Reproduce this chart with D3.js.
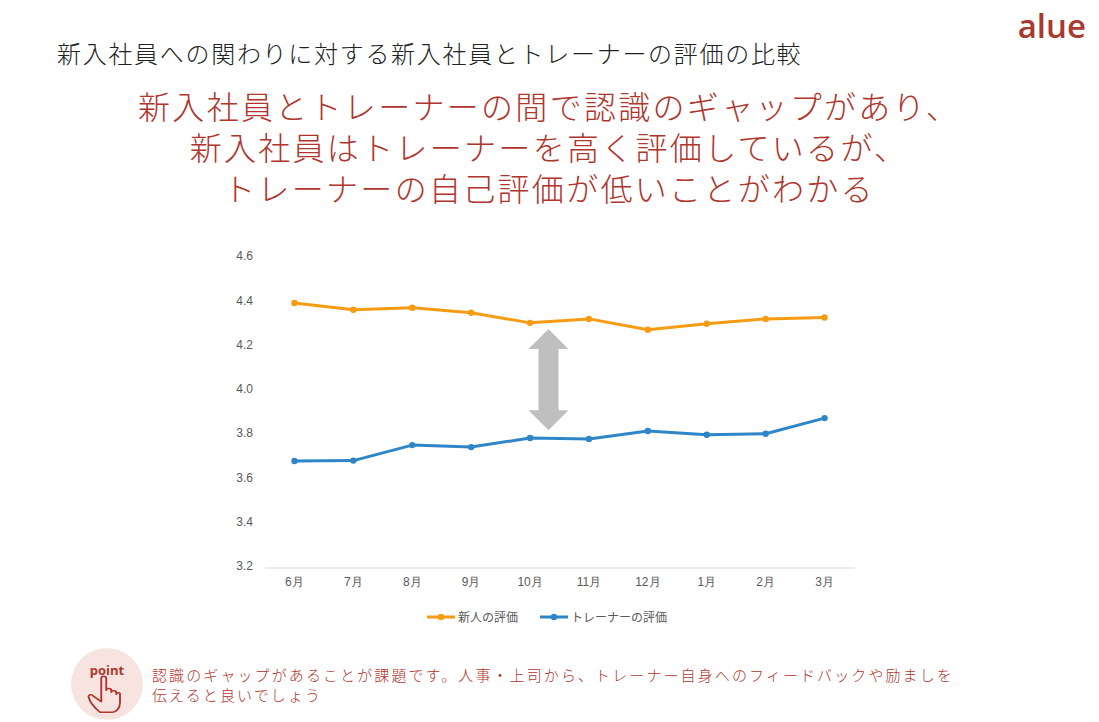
<!DOCTYPE html>
<html>
<head>
<meta charset="utf-8">
<script src="https://cdn.jsdelivr.net/npm/d3@7"></script>
<style>
  html, body { margin: 0; padding: 0; background: #fff; }
  svg { display: block; }
</style>
</head>
<body>
<svg id="chart"></svg>
<script>
// data
const months = ["6月", "7月", "8月", "9月", "10月", "11月", "12月", "1月", "2月", "3月"];
const newcomerScores = [4.388, 4.357, 4.366, 4.344, 4.298, 4.316, 4.267, 4.294, 4.316, 4.322];
const trainerScores = [3.674, 3.676, 3.746, 3.737, 3.778, 3.774, 3.810, 3.793, 3.797, 3.868];
const seriesNames = ["新人の評価", "トレーナーの評価"];
const yTicks = [3.2, 3.4, 3.6, 3.8, 4.0, 4.2, 4.4, 4.6];

const title = "新入社員への関わりに対する新入社員とトレーナーの評価の比較";
const headline = [
    "新入社員とトレーナーの間で認識のギャップがあり、",
    "新入社員はトレーナーを高く評価しているが、",
    "トレーナーの自己評価が低いことがわかる"
];
const pointText = [
    "認識のギャップがあることが課題です。人事・上司から、トレーナー自身へのフィードバックや励ましを",
    "伝えると良いでしょう"
];

const W = 1099, H = 722;
const red = "#b0352c";
const colors = ["#f59c13", "#2e86c8"];
const jp = "'Noto Sans CJK JP', 'Noto Sans', sans-serif";
const narrow = "'Liberation Sans Narrow', 'Liberation Sans', sans-serif";

const svg = d3.select("#chart")
    .attr("width", W)
    .attr("height", H)
    .attr("viewBox", [0, 0, W, H]);

// header texts
svg.append("text")
    .attr("x", 57).attr("y", 63)
    .attr("font-family", jp).attr("font-size", 24).attr("font-weight", 300)
    .attr("letter-spacing", 1.7)
    .attr("fill", "#222")
    .text(title);

svg.append("text")
    .attr("x", 1086).attr("y", 38)
    .attr("text-anchor", "end")
    .attr("font-family", "'Open Sans', sans-serif").attr("font-size", 33).attr("font-weight", 600)
    .attr("fill", "#a83a30")
    .text("alue");

// headline: one text, three lines
svg.append("text")
    .attr("text-anchor", "middle")
    .attr("font-family", jp).attr("font-size", 32).attr("font-weight", 300)
    .attr("letter-spacing", 2.3)
    .attr("fill", red)
  .selectAll("tspan")
  .data(headline)
  .join("tspan")
    .attr("x", 549)
    .attr("y", (d, i) => 119 + i * 41)
    .text(d => d);

// chart scales
const x = d3.scaleBand(months, [265, 854]);
const y = d3.scaleLinear([3.2, 4.6], [566, 256]);
const xc = d => x(d) + x.bandwidth() / 2;

// y axis labels (no line)
svg.append("g")
    .attr("transform", "translate(253,0)")
    .call(d3.axisLeft(y).tickValues(yTicks).tickSize(0).tickPadding(0).tickFormat(d3.format(".1f")))
    .call(g => g.select(".domain").remove())
    .call(g => g.selectAll("text")
        .attr("font-family", narrow).attr("font-size", 12).attr("fill", "#595959"));

// x axis
svg.append("g")
    .attr("transform", "translate(0,567.5)")
    .call(d3.axisBottom(x).tickSize(0).tickPadding(10))
    .call(g => g.select(".domain").attr("stroke", "#d9d9d9").attr("stroke-width", 1.2))
    .call(g => g.selectAll("text")
        .attr("font-family", narrow).attr("font-size", 12).attr("fill", "#595959"));

// gap arrow
const arrowX = (xc("10月") + xc("11月")) / 2 - 11;
const aTop = y(4.27), aBot = y(3.80) - 3;
const headH = 20, headW = 20, shaftW = 10;
svg.append("path")
    .attr("d", [
        [arrowX, aTop],
        [arrowX + headW, aTop + headH],
        [arrowX + shaftW, aTop + headH],
        [arrowX + shaftW, aBot - headH],
        [arrowX + headW, aBot - headH],
        [arrowX, aBot],
        [arrowX - headW, aBot - headH],
        [arrowX - shaftW, aBot - headH],
        [arrowX - shaftW, aTop + headH],
        [arrowX - headW, aTop + headH]
    ].map((p, i) => (i ? "L" : "M") + p[0] + "," + p[1]).join("") + "Z")
    .attr("fill", "#bfbfbf");

// lines
const series = [newcomerScores, trainerScores];
const line = d3.line().x((d, i) => xc(months[i])).y(d => y(d));

const sg = svg.append("g")
    .selectAll("g")
    .data(series)
    .join("g")
      .attr("fill", (d, i) => colors[i])
      .attr("stroke", (d, i) => colors[i]);

sg.append("path")
    .attr("d", d => line(d))
    .attr("fill", "none")
    .attr("stroke-width", 3)
    .attr("stroke-linejoin", "round");

sg.selectAll("circle")
    .data(d => d)
    .join("circle")
      .attr("cx", (d, i) => xc(months[i]))
      .attr("cy", d => y(d))
      .attr("r", 3.2)
      .attr("stroke", "none");

// legend
const legendPos = [427, 540];
const lg = svg.append("g")
    .selectAll("g")
    .data(seriesNames)
    .join("g")
      .attr("transform", (d, i) => `translate(${legendPos[i]},617)`);
lg.append("line")
    .attr("x1", 0).attr("x2", 28)
    .attr("stroke", (d, i) => colors[i]).attr("stroke-width", 3);
lg.append("circle")
    .attr("cx", 14).attr("r", 3.2)
    .attr("fill", (d, i) => colors[i]);
lg.append("text")
    .attr("x", 31).attr("y", 4.5)
    .attr("font-family", jp).attr("font-size", 12).attr("fill", "#595959")
    .text(d => d);

// point badge
const badge = svg.append("g").attr("transform", "translate(107,684)");
badge.append("circle").attr("r", 36).attr("fill", "#f7e4e1");
badge.append("text")
    .attr("y", -9)
    .attr("text-anchor", "middle")
    .attr("font-family", "'Open Sans', sans-serif").attr("font-size", 13).attr("font-weight", 700)
    .attr("fill", red)
    .text("point");
// hand icon
badge.append("path")
    .attr("transform", "translate(-2,3) scale(1.25,1.05)")
    .attr("d", "M-3,-8 C-3,-11 1,-11 1,-8 L1,3 C1,1 5,1 5,3 L5,5 C5,3 9,3 9,5 L9,7 C9,5 12,5 12,7 L12,15 C12,20 9,24 6,24 L-4,24 C-7,21 -12,15 -13,10 C-14,8 -11,6 -9,9 L-3,14 Z")
    .attr("fill", "none")
    .attr("stroke", red)
    .attr("stroke-width", 1.5)
    .attr("stroke-linejoin", "round");

svg.append("g")
    .selectAll("text")
    .data(pointText)
    .join("text")
      .attr("x", 152)
      .attr("y", (d, i) => 681 + i * 20)
      .attr("font-family", jp).attr("font-size", 15).attr("font-weight", 300)
      .attr("letter-spacing", 2.1)
      .attr("fill", red)
      .text(d => d);
</script>
</body>
</html>
